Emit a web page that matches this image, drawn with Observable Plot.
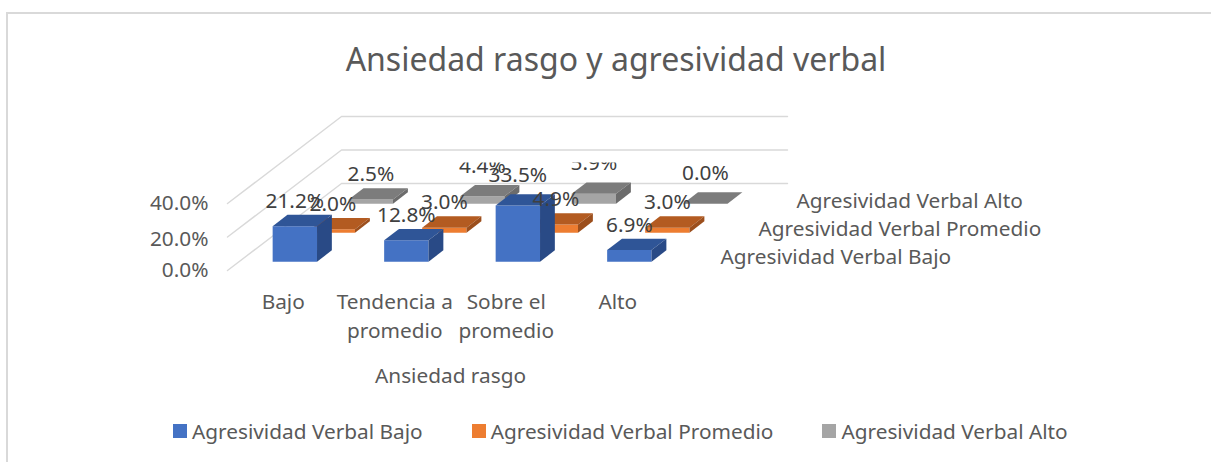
<!DOCTYPE html>
<html lang="es">
<head>
<meta charset="utf-8">
<script src="https://cdn.jsdelivr.net/npm/d3@7"></script>
<script src="https://cdn.jsdelivr.net/npm/@observablehq/plot@0.6"></script>
<style>
  html, body { margin: 0; padding: 0; background: #fff; }
  #page { position: relative; width: 1211px; height: 462px; overflow: hidden; font-family: "Noto Sans", sans-serif; }
  #edge { position: absolute; left: 6px; top: 12px; right: -4px; bottom: -4px; border-left: 2px solid #d9d9d9; border-top: 2px solid #d9d9d9; }
  #title { position: absolute; left: 0; top: 34px; width: 1232px; text-align: center; font-size: 32px; line-height: 50px; color: #595959; }
  #chart { position: absolute; left: 0; top: 100px; }
  #legend { position: absolute; left: 173px; top: 416px; display: flex; gap: 49px; font-size: 20.8px; line-height: 30px; color: #595959; white-space: nowrap; }
  #legend span.item { display: flex; align-items: center; gap: 5px; }
  #legend i { display: block; width: 14px; height: 14px; }
</style>
</head>
<body>
<div id="page">
  <div id="edge"></div>
  <div id="title">Ansiedad rasgo y agresividad verbal</div>
  <div id="chart"></div>
  <div id="legend"></div>
</div>
<script>
const categories = ["Bajo", "Tendencia a\npromedio", "Sobre el\npromedio", "Alto"];
const seriesNames = ["Agresividad Verbal Bajo", "Agresividad Verbal Promedio", "Agresividad Verbal Alto"];
const bajo = [21.2, 12.8, 33.5, 6.9];
const promedio = [2.0, 3.0, 4.9, 3.0];
const alto = [2.5, 4.4, 5.9, 0.0];
const valueTicks = [0, 20, 40];
const frontColors = ["#4472C4", "#ED7D31", "#A5A5A5"];
const topColors = ["#2F5597", "#B35B21", "#7C7C7C"];
const sideColors = ["#294A86", "#9C4F1D", "#6C6C6C"];

// Oblique projection: one series step of depth shifts a point along x and y.
const depthX = 38 / 111.5;
const depthY = 29 / 1.675;
const barW = 0.398, barLeft = (1 - barW) / 2;
const barD = 0.39, barNear = (1 - barD) / 2;
const px = (u, s) => u + s * depthX;
const py = (v, s) => v + s * depthY;

const seriesValues = [bajo, promedio, alto];
const faces = [];
for (let s = 2; s >= 0; s--) {
  seriesValues[s].forEach((v, u) => {
    const l = u + barLeft, r = l + barW, n = s + barNear, f = n + barD;
    const id = `${s}-${u}`;
    const add = (name, color, pts) => pts.forEach(([a, d, h]) =>
      faces.push({id: id + name, color, x: px(a, d), y: py(h, d)}));
    add("front", frontColors[s], [[l, n, 0], [r, n, 0], [r, n, v], [l, n, v]]);
    add("top", topColors[s], [[l, n, v], [r, n, v], [r, f, v], [l, f, v]]);
    add("side", sideColors[s], [[r, n, 0], [r, f, 0], [r, f, v], [r, n, v]]);
  });
}

const grid = valueTicks.flatMap(v => [
  {v, x: px(0, 0), y: py(v, 0)},
  {v, x: px(0, 3), y: py(v, 3)},
  {v, x: px(4, 3), y: py(v, 3)}
]);

const lifted = new Set(["0-2", "2-1", "2-2", "2-3"]);
const labels = seriesValues.flatMap((vals, s) => vals.map((v, u) => ({
  text: v.toFixed(1) + "%",
  x: px(u + 0.5, s + barNear),
  y: py(v, s + barNear),
  lift: lifted.has(`${s}-${u}`),
  clipped: s === 2 && (u === 1 || u === 2)
})));

const depthLabels = seriesNames.map((name, s) => ({name, x: px(4, s + 0.5), y: py(0, 0.47 + s * 0.96)}));

const W = 1211, H = 295;
const liftDy = -30;
const chart = Plot.plot({
  width: W,
  height: H,
  marginLeft: 227,
  marginRight: W - 787,
  marginTop: 16,
  marginBottom: 125,
  style: {fontFamily: "'Noto Sans', sans-serif", fontSize: "20.8px", background: "transparent", color: "#595959", overflow: "visible"},
  x: {domain: [0, px(4, 3)], axis: null},
  y: {domain: [0, py(40, 3)], axis: null},
  color: {type: "identity"},
  marks: [
    Plot.line(grid, {x: "x", y: "y", z: "v", stroke: "#d9d9d9", strokeWidth: 1.4}),
    Plot.axisY({ticks: [0, 40], anchor: "left", tickSize: 0, tickPadding: 19, dy: 0, label: null, tickFormat: d => d.toFixed(1) + "%"}),
    Plot.axisY({ticks: [20], anchor: "left", tickSize: 0, tickPadding: 19, dy: 2, label: null, tickFormat: d => d.toFixed(1) + "%"}),
    Plot.axisX({ticks: [0.5, 1.5, 2.5, 3.5], anchor: "bottom", tickSize: 0, tickPadding: 19, lineHeight: 1.35, label: null, tickFormat: d => categories[d - 0.5]}),
    Plot.text(["Ansiedad rasgo"], {x: () => 2, y: () => 0, dy: 106, text: d => d, fill: "#595959"}),
    Plot.line(faces, {x: "x", y: "y", z: "id", fill: "color", stroke: "none"}),
    Plot.text(depthLabels, {x: "x", y: "y", text: "name", textAnchor: "start", dx: 28, fill: "#595959"}),
    Plot.text(labels.filter(d => !d.lift), {x: "x", y: "y", text: "text", dy: -25, fill: "#404040"}),
    Plot.text(labels.filter(d => d.lift && !d.clipped), {x: "x", y: "y", text: "text", dy: liftDy, fill: "#404040"}),
    Plot.text(labels.filter(d => d.clipped), {x: "x", y: "y", text: "text", dy: liftDy, fill: "#404040"})
  ]
});

// The reference cuts the top off two data labels; reproduce that with a clip path
// on the group holding only those two texts. The group is shifted by dy, so the
// clip rectangle (in the group's own coordinates) is shifted back by the same amount.
const svgEl = d3.select(chart);
svgEl.append("defs").append("clipPath").attr("id", "label-clip")
  .append("rect").attr("x", 0).attr("y", 62 - liftDy).attr("width", W).attr("height", H);
const cut = svgEl.selectAll("text").filter(function() {
  const t = this.textContent;
  return t === "4.4%" || t === "5.9%";
}).node();
cut.parentNode.setAttribute("clip-path", "url(#label-clip)");

document.getElementById("chart").appendChild(chart);

const legend = d3.select("#legend");
seriesNames.forEach((name, s) => {
  const item = legend.append("span").attr("class", "item");
  item.append("i").style("background", frontColors[s]);
  item.append("span").text(name);
});
</script>
</body>
</html>
